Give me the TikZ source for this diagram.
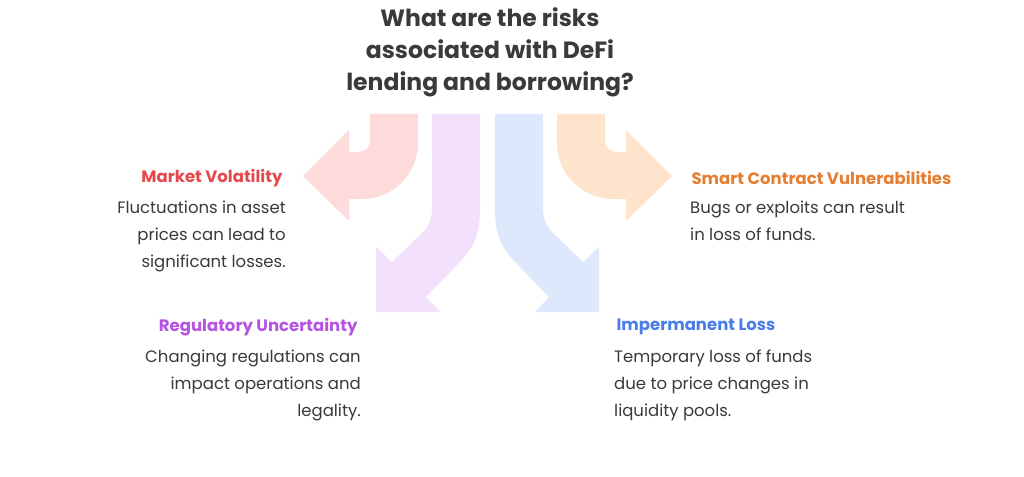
\documentclass[tikz,border=0pt]{standalone}
\usepackage{fontspec}
\setmainfont{Poppins}
\definecolor{rf}{HTML}{FDDBDA}
\definecolor{pf}{HTML}{F3E0FC}
\definecolor{bf}{HTML}{DDE8FC}
\definecolor{of}{HTML}{FEE4CC}
\definecolor{rt}{HTML}{E5484D}
\definecolor{pt}{HTML}{B553E3}
\definecolor{bt}{HTML}{4A7DE6}
\definecolor{ot}{HTML}{E47E32}
\definecolor{tx}{HTML}{3A3A3A}
\begin{document}
\begin{tikzpicture}[x=1pt,y=-1pt,
  head/.style={font=\fontsize{16.5}{20}\selectfont\bfseries},
  body/.style={font=\fontsize{16.5}{27}\selectfont,text=tx,inner sep=0pt}]
\useasboundingbox (0,0) rectangle (1024,476);
\fill[white] (0,0) rectangle (1024,476);
\newcommand\redarrow[1]{%
\fill[#1] (370,114) -- (418,114) -- (418,143) .. controls (418,174) and (393,199) .. (362,199) -- (349,199) -- (349,221) -- (303,176) -- (349,130) -- (349,152) -- (358,152) .. controls (364,152) and (370,148) .. (370,142) -- cycle;}
\newcommand\purplearrow[1]{%
\fill[#1] (432,114) -- (480,114) -- (480,210) .. controls (480,240) and (470,252) .. (455,267) -- (426,297) -- (440,312) -- (376,312) -- (376,247) -- (392,262) -- (423,232) .. controls (430,225) and (432,218) .. (432,205) -- cycle;}
\redarrow{rf}
\purplearrow{pf}
\begin{scope}[xshift=975pt,xscale=-1]
\redarrow{of}
\purplearrow{bf}
\end{scope}
\node[font=\fontsize{23.5}{32}\selectfont\bfseries,text=tx,align=center] (title) at (490,52) {What are the risks\\associated with DeFi\\lending and borrowing?};
\node[head,text=rt,anchor=east] (mvh) at (286,178) {Market Volatility};
\node[body,align=right,anchor=north east] (mvb) at (286,201) {Fluctuations in asset\\prices can lead to\\significant losses.};
\node[head,text=ot,anchor=west] (sch) at (688,178) {Smart Contract Vulnerabilities};
\node[body,align=left,anchor=north west] (scb) at (690,201) {Bugs or exploits can result\\in loss of funds.};
\node[head,text=pt,anchor=east] (ruh) at (361,327) {Regulatory Uncertainty};
\node[body,align=right,anchor=north east] (rub) at (361,350) {Changing regulations can\\impact operations and\\legality.};
\node[head,text=bt,anchor=west] (ilh) at (613,327) {Impermanent Loss};
\node[body,align=left,anchor=north west] (ilb) at (614,350) {Temporary loss of funds\\due to price changes in\\liquidity pools.};
\end{tikzpicture}
\end{document}
